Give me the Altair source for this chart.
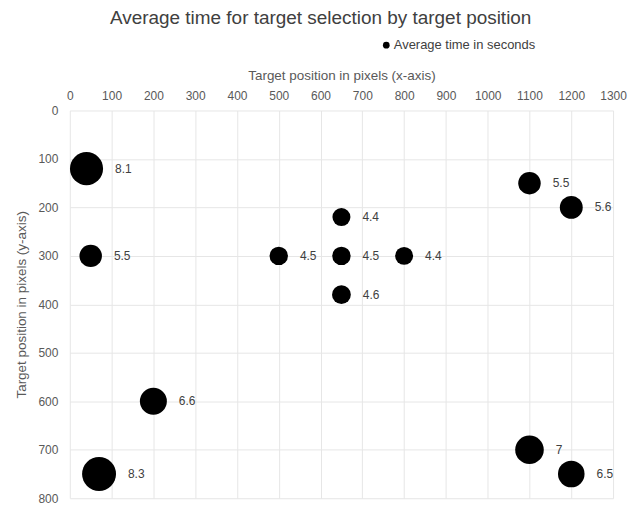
import altair as alt
import pandas as pd

x_pos = [40, 50, 200, 70, 500, 650, 800, 650, 650, 1100, 1200, 1100, 1200]
y_pos = [120, 300, 600, 750, 300, 300, 300, 220, 380, 150, 200, 700, 750]
avg_time = [8.1, 5.5, 6.6, 8.3, 4.5, 4.5, 4.4, 4.4, 4.6, 5.5, 5.6, 7, 6.5]
series = "Average time in seconds"

df = pd.DataFrame({"x": x_pos, "y": y_pos, "t": avg_time, "series": series})

FONT = "Liberation Sans"
GRAY = "#595959"
W, H = 545, 389
X_MAX = 1300

x_enc = alt.X("x:Q", scale=alt.Scale(domain=[0, X_MAX], nice=False),
              axis=alt.Axis(orient="top", title="Target position in pixels (x-axis)",
                            values=list(range(0, 1301, 100)), labelFlush=False, format="d",
                            labelPadding=8, titlePadding=7))
y_enc = alt.Y("y:Q", scale=alt.Scale(domain=[0, 800], reverse=True, nice=False),
              axis=alt.Axis(title="Target position in pixels (y-axis)",
                            values=list(range(0, 801, 100)), labelFlush=False, format="d",
                            labelPadding=12, titlePadding=9))

bubbles = alt.Chart(df).mark_circle(opacity=1).encode(
    x=x_enc,
    y=y_enc,
    size=alt.Size("t:Q", scale=alt.Scale(type="pow", exponent=2, domain=[0, 10], range=[0, 1681]), legend=None),
    color=alt.Color("series:N", scale=alt.Scale(range=["#000000"]),
                    legend=alt.Legend(title=None, orient="none", legendX=311, legendY=-72,
                                      symbolType="circle", symbolSize=45, labelFontSize=13,
                                      labelFont=FONT, labelColor="#404040", labelOffset=1)),
)

labels = alt.Chart(df).mark_text(align="left", baseline="middle", fontSize=12, font=FONT,
                                 color="#404040").transform_calculate(
    lx=f"datum.x + (datum.t * 2.05 + 12) * {X_MAX} / {W}"
).encode(
    x=alt.X("lx:Q"),
    y=alt.Y("y:Q"),
    text=alt.Text("t:Q"),
)

chart = alt.layer(bubbles, labels).properties(
    width=W, height=H,
    title=alt.Title("Average time for target selection by target position", fontSize=19,
                    font=FONT, fontWeight="normal", color="#404040", anchor="middle",
                    frame="bounds", offset=11),
    padding={"left": 6, "top": 0, "right": 5, "bottom": 0},
).configure_axis(
    labelFont=FONT, titleFont=FONT, labelFontSize=12, titleFontSize=13.5,
    labelColor=GRAY, titleColor=GRAY, titleFontWeight="normal",
    gridColor="#e6e6e6", domain=False, ticks=False,
).configure_view(stroke=None)

chart.save("out.html", embed_options={"renderer": "svg", "actions": False})
